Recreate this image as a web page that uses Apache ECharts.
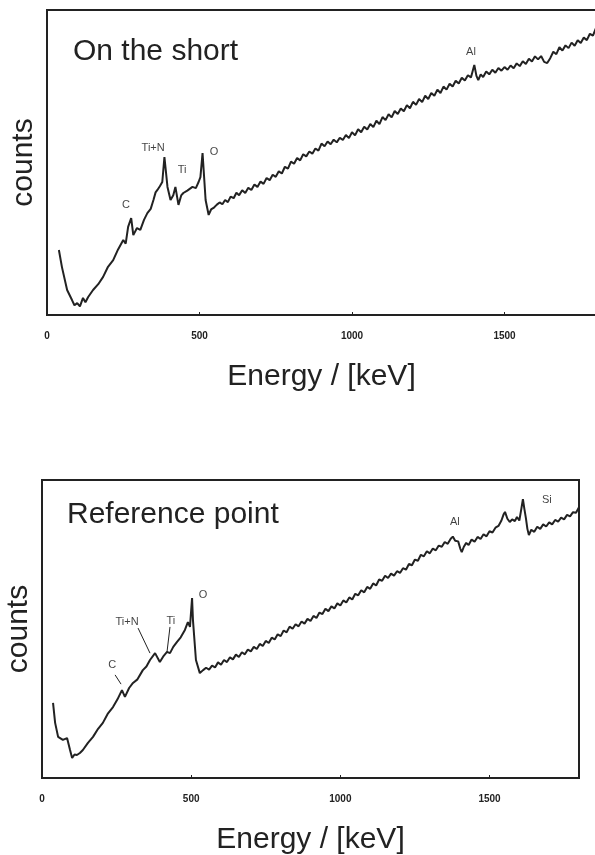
<!DOCTYPE html>
<html>
<head>
<meta charset="utf-8">
<script src="https://cdn.jsdelivr.net/npm/echarts@6/dist/echarts.min.js"></script>
<style>
  html, body { margin: 0; padding: 0; background: #fff; }
  #chart { width: 595px; height: 855px; }
</style>
</head>
<body>
<div id="chart"></div>
<script>
// spectrum on the short: [energy, counts]
var shortSpectrum = [
  [39,21.3],[49,15.7],[66,8.2],[82,4.9],[90,3.2],[99,3.9],[108,2.8],[118,5.6],[126,4.2],[135,5.9],
  [151,8.2],[168,10.1],[184,12.5],[200,15.8],[217,18.0],[233,21.5],[250,24.6],[258,23.4],[266,28.9],[276,31.8],
  [283,26.2],[295,28.5],[306,27.9],[318,31.2],[329,33.4],[340,34.8],[349,37.7],[356,40.2],[362,41.0],[370,42.2],
  [378,43.6],[385,51.8],[395,42.0],[405,37.7],[414,39.3],[421,42.0],[431,36.1],[440,39.2],[447,40.0],[460,40.8],
  [477,42.0],[488,41.6],[497,43.6],[503,45.2],[510,53.1],[520,37.7],[530,32.8],[538,34.6],[546,35.1],
  [557,36.2],[566,36.9],[575,36.3],[584,37.7],[593,37.0],[602,38.8],[612,38.3],[621,40.1],[630,39.3],[640,40.9],
  [650,40.0],[660,41.7],[670,41.0],[680,42.8],[690,42.0],[700,43.8],[710,43.0],[720,44.9],[730,44.2],[740,46.0],
  [750,45.3],[760,47.1],[770,46.4],[780,48.6],[790,48.0],[800,50.3],[810,49.6],[820,51.5],[830,50.7],[840,52.7],
  [850,52.0],[860,53.6],[870,52.9],[880,54.6],[890,53.9],
  [900,56.2],[910,55.3],[920,56.9],[930,56.0],[940,57.5],[950,56.6],[960,58.1],[970,57.4],[980,59.0],[990,58.0],
  [1000,59.9],[1010,58.9],[1020,60.9],[1030,59.9],[1040,61.7],[1050,60.8],[1060,62.6],[1070,61.6],[1080,63.7],[1090,62.6],
  [1100,64.9],[1110,63.9],[1120,65.8],[1130,64.8],[1140,66.9],[1150,65.9],[1160,67.7],[1170,66.8],[1180,68.8],[1190,67.8],
  [1200,69.9],[1210,68.9],[1220,70.8],[1230,69.8],[1240,71.9],[1250,70.8],[1260,72.8],[1270,71.9],[1280,73.9],[1290,72.8],
  [1300,74.9],[1310,73.9],[1320,75.8],[1330,74.9],[1340,76.8],[1350,75.9],[1360,77.8],[1370,76.9],[1380,78.6],[1390,77.9],
  [1401,82.0],[1408,78.4],[1414,77.0],[1422,78.9],[1430,78.0],[1440,79.8],[1450,78.9],[1460,80.4],[1470,79.4],[1480,81.0],
  [1490,80.1],[1500,81.3],[1510,80.4],[1520,81.8],[1530,80.9],[1540,82.5],[1550,81.6],[1560,83.2],[1570,82.3],[1580,84.0],
  [1590,83.1],[1600,84.8],[1610,83.8],[1620,84.9],[1630,83.0],[1640,82.6],[1650,84.2],[1660,86.3],[1670,85.5],[1680,87.8],
  [1690,86.7],[1700,88.4],[1710,87.5],[1720,89.3],[1730,88.3],[1740,90.1],[1750,89.2],[1760,91.0],[1770,90.1],[1780,92.2],
  [1790,91.6],[1800,94.1]
];

// spectrum at the reference point
var refSpectrum = [
  [37,25.2],[44,18.5],[54,13.8],[70,12.8],[84,13.4],[94,9.4],[101,6.7],[109,7.9],[117,7.7],[127,8.4],
  [137,9.4],[154,11.8],[171,13.8],[188,16.5],[204,18.5],[220,21.5],[238,23.8],[253,26.4],[268,29.5],[278,27.2],
  [292,30.2],[305,31.9],[320,33.1],[338,36.2],[350,37.4],[362,39.6],[379,41.9],[395,38.9],[408,41.0],[419,42.3],
  [429,41.9],[440,44.0],[452,45.6],[465,47.2],[479,49.7],[489,52.3],[496,50.7],[503,60.4],[506,53.0],[516,39.6],
  [529,35.2],[540,36.2],[550,37.0],[560,36.4],[570,37.7],[580,37.1],[590,38.8],[600,38.0],[610,39.6],[620,38.9],
  [630,40.5],[640,39.8],[650,41.4],[660,40.6],[670,42.2],[680,41.5],[690,43.1],[700,42.5],[710,44.0],[720,43.3],
  [730,45.0],[740,44.3],[750,46.0],[760,45.3],[770,47.1],[780,46.5],[790,48.2],[800,47.6],[810,49.5],[820,48.9],
  [830,50.8],[840,50.1],[850,51.6],[860,50.9],[870,52.5],[880,51.8],[890,53.4],[900,52.7],[910,54.4],[920,53.7],
  [930,55.5],[940,55.0],[950,56.8],[960,56.0],[970,57.6],[980,56.9],[990,58.6],[1000,57.9],[1010,59.6],[1020,58.9],
  [1030,60.6],[1040,59.9],[1050,61.8],[1060,61.3],[1070,63.0],[1080,62.3],[1090,64.1],[1100,63.5],[1110,65.3],[1120,64.6],
  [1130,66.6],[1140,66.2],[1150,67.9],[1160,67.1],[1170,68.6],[1180,67.9],[1190,69.4],[1200,68.8],[1210,70.4],[1220,69.9],
  [1230,71.8],[1240,71.4],[1250,73.3],[1260,72.9],[1270,74.9],[1280,74.4],[1290,76.1],[1300,75.4],[1310,77.0],[1320,76.4],
  [1330,78.0],[1340,77.6],[1350,79.2],[1360,78.6],[1370,80.3],[1377,81.0],[1385,79.6],[1395,79.4],[1402,77.0],[1407,75.8],
  [1414,77.6],[1422,78.9],[1430,78.2],[1440,80.0],[1450,79.3],[1460,80.9],[1470,80.2],[1480,81.8],[1490,81.1],[1500,82.8],
  [1510,82.4],[1520,84.0],[1530,84.6],[1540,86.4],[1547,88.4],[1552,89.3],[1560,87.0],[1568,85.9],[1576,86.8],[1585,86.2],
  [1592,87.6],[1600,86.4],[1607,90.5],[1612,93.6],[1617,90.2],[1622,87.2],[1627,83.6],[1632,81.5],[1640,83.3],[1650,82.6],
  [1660,84.3],[1670,83.6],[1680,85.1],[1690,84.4],[1700,85.8],[1710,85.1],[1720,86.6],[1730,86.0],[1740,87.4],[1750,86.8],
  [1760,88.3],[1770,87.8],[1780,89.2],[1790,89.0],[1800,90.9]
];

// peak labels [energy, counts, name]
var shortLabels = [[259,36.1,'C'],[348,54.8,'Ti+N'],[443,47.5,'Ti'],[548,53.4,'O'],[1390,86.2,'Al']];
var refLabels = [[235,37.9,'C'],[285,52.3,'Ti+N'],[432,52.7,'Ti'],[540,61.4,'O'],[1384,85.9,'Al'],[1692,93.3,'Si']];
// leader lines of the reference panel
var refLeaders = [
  [[245,34.6],[265,31.5]],
  [[322,50.3],[362,41.9]],
  [[429,50.7],[419,42.3]]
];

var xTicks = [0, 500, 1000, 1500];
var ink = '#222';
var font = '"Liberation Sans", Arial, sans-serif';

function xAxisFor(idx) {
  return {
    type: 'value', gridIndex: idx, min: 0, max: 1800, interval: 500,
    name: 'Energy / [keV]', nameLocation: 'middle', nameGap: 47,
    nameTextStyle: { fontSize: 30, color: ink, fontFamily: font },
    axisLine: { show: true, lineStyle: { color: ink, width: 2 } },
    axisTick: { show: true, inside: true, length: 3, lineStyle: { color: ink } },
    axisLabel: {
      color: ink, fontSize: 10, fontWeight: 'bold', fontFamily: font, margin: 16,
      formatter: function (v) { return xTicks.indexOf(v) >= 0 ? String(v) : ''; }
    },
    splitLine: { show: false }
  };
}
function yAxisFor(idx) {
  return {
    type: 'value', gridIndex: idx, min: 0, max: 100,
    name: 'counts', nameLocation: 'middle', nameRotate: 90, nameGap: 8,
    nameTextStyle: { fontSize: 30, color: ink, fontFamily: font },
    axisLine: { show: true, lineStyle: { color: ink, width: 2 } },
    axisTick: { show: false }, axisLabel: { show: false }, splitLine: { show: false }
  };
}
function labelSeries(idx, data) {
  return {
    type: 'scatter', xAxisIndex: idx, yAxisIndex: idx, symbolSize: 0, silent: true,
    data: data,
    label: {
      show: true, position: 'inside', color: '#111', fontSize: 11, fontFamily: font,
      formatter: function (p) { return p.data[2]; }
    }
  };
}

var chart = echarts.init(document.getElementById('chart'));
chart.setOption({
  animation: false,
  backgroundColor: '#fff',
  title: [
    { text: 'On the short', left: 73, top: 37, padding: 0,
      textStyle: { fontSize: 30, fontWeight: 'normal', color: ink, fontFamily: font } },
    { text: 'Reference point', left: 67, top: 500, padding: 0,
      textStyle: { fontSize: 30, fontWeight: 'normal', color: ink, fontFamily: font } }
  ],
  grid: [
    { left: 47, top: 10, width: 549, height: 305, show: true, borderColor: ink, borderWidth: 2,
      outerBoundsMode: 'none', containLabel: false },
    { left: 42, top: 480, width: 537, height: 298, show: true, borderColor: ink, borderWidth: 2,
      outerBoundsMode: 'none', containLabel: false }
  ],
  xAxis: [xAxisFor(0), xAxisFor(1)],
  yAxis: [yAxisFor(0), yAxisFor(1)],
  series: [
    { type: 'line', xAxisIndex: 0, yAxisIndex: 0, data: shortSpectrum, showSymbol: false,
      lineStyle: { color: ink, width: 2 } },
    { type: 'line', xAxisIndex: 1, yAxisIndex: 1, data: refSpectrum, showSymbol: false,
      lineStyle: { color: ink, width: 2 },
      markLine: {
        silent: true, symbol: 'none', label: { show: false },
        lineStyle: { color: ink, width: 1, type: 'solid' },
        data: refLeaders.map(function (l) { return [{ coord: l[0] }, { coord: l[1] }]; })
      } },
    labelSeries(0, shortLabels),
    labelSeries(1, refLabels)
  ]
});
</script>
</body>
</html>
